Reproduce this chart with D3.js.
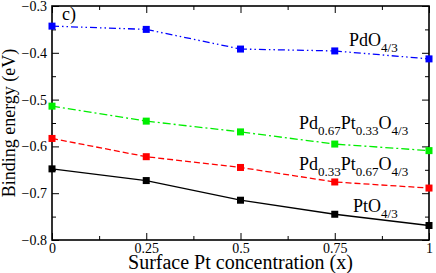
<!DOCTYPE html>
<html>
<head>
<meta charset="utf-8">
<script src="https://cdn.jsdelivr.net/npm/d3@7"></script>
<style>
  body { margin: 0; background: #fff; }
  text { font-family: "Liberation Serif", "Times New Roman", serif; fill: #000; }
</style>
</head>
<body>
<svg id="chart"></svg>
<script>
// Surface Pt concentration
const xValues = [0, 0.25, 0.5, 0.75, 1];
const xTicks = [0, 0.25, 0.5, 0.75, 1];
const xTickLabels = ["0", "0.25", "0.5", "0.75", "1"];
const yTicks = [-0.8, -0.7, -0.6, -0.5, -0.4, -0.3];

// binding energies (eV)
const pdO = [-0.343, -0.350, -0.392, -0.396, -0.413];
const pd67pt33 = [-0.514, -0.546, -0.569, -0.595, -0.609];
const pd33pt67 = [-0.583, -0.622, -0.645, -0.676, -0.689];
const ptO = [-0.648, -0.673, -0.715, -0.745, -0.769];

const series = [
  { values: pdO, color: "#0000ff", dash: "7,3,1.5,3,1.5,3" },
  { values: pd67pt33, color: "#00ee00", dash: "8,3,2,3" },
  { values: pd33pt67, color: "#ff0000", dash: "6,3" },
  { values: ptO, color: "#000000", dash: null }
];

const width = 436, height = 273;
const margin = { top: 6, right: 7, bottom: 33, left: 52 };
const w = width - margin.left - margin.right;
const h = height - margin.top - margin.bottom;

const svg = d3.select("#chart").attr("width", width).attr("height", height);
const g = svg.append("g").attr("transform", "translate(" + margin.left + "," + margin.top + ")");

const x = d3.scaleLinear().domain([0, 1]).range([0, w]);
const y = d3.scaleLinear().domain([-0.8, -0.3]).range([h, 0]);

const xMinor = d3.range(0, 1.0001, 0.125).filter(v => Math.abs(v * 4 - Math.round(v * 4)) > 1e-6);
const yMinor = d3.range(-0.75, -0.3, 0.1);

// bottom axis with labels
g.append("g")
  .attr("transform", "translate(0," + h + ")")
  .call(d3.axisBottom(x).tickValues(xTicks).tickSize(-7).tickPadding(3)
    .tickFormat((d, i) => xTickLabels[i]))
  .call(a => a.selectAll("text").style("font-size", "14px").attr("font-family", null));
g.append("g")
  .attr("transform", "translate(0," + h + ")")
  .call(d3.axisBottom(x).tickValues(xMinor).tickSize(-4).tickFormat(""));

// top axis
g.append("g")
  .call(d3.axisTop(x).tickValues(xTicks).tickSize(-7).tickFormat(""));
g.append("g")
  .call(d3.axisTop(x).tickValues(xMinor).tickSize(-4).tickFormat(""));

// left axis
g.append("g")
  .call(d3.axisLeft(y).tickValues(yTicks).tickSize(-7).tickPadding(5)
    .tickFormat(d3.format(".1f")))
  .call(a => a.selectAll("text").style("font-size", "14px").attr("font-family", null));
g.append("g")
  .call(d3.axisLeft(y).tickValues(yMinor).tickSize(-4).tickFormat(""));

// right axis
g.append("g")
  .attr("transform", "translate(" + w + ",0)")
  .call(d3.axisRight(y).tickValues(yTicks).tickSize(-7).tickFormat(""));
g.append("g")
  .attr("transform", "translate(" + w + ",0)")
  .call(d3.axisRight(y).tickValues(yMinor).tickSize(-4).tickFormat(""));

g.selectAll(".domain").remove();
g.selectAll(".tick line").attr("stroke", "#000").attr("stroke-width", 1);
g.selectAll(".tick text").attr("fill", "#000");

// frame
g.append("rect")
  .attr("width", w).attr("height", h)
  .attr("fill", "none").attr("stroke", "#000").attr("stroke-width", 1.6);

// lines
const line = d3.line().x((d, i) => x(xValues[i])).y(d => y(d));

series.forEach(s => {
  g.append("path")
    .datum(s.values)
    .attr("fill", "none")
    .attr("stroke", s.color)
    .attr("stroke-width", 1.3)
    .attr("stroke-dasharray", s.dash)
    .attr("d", line);

  g.selectAll(null)
    .data(s.values)
    .enter()
    .append("rect")
    .attr("x", (d, i) => x(xValues[i]) - 3.5)
    .attr("y", d => y(d) - 3.5)
    .attr("width", 7)
    .attr("height", 7)
    .attr("fill", s.color);
});

// series labels with subscripts
function label(px, py, parts) {
  const t = svg.append("text")
    .attr("x", px).attr("y", py)
    .style("font-size", "18px");
  let sub = false;
  parts.forEach(p => {
    const isSub = p[1];
    t.append("tspan")
      .text(p[0])
      .attr("dy", isSub ? (sub ? 0 : 6) : (sub ? -6 : 0))
      .style("font-size", isSub ? "13px" : null);
    sub = isSub;
  });
}

label(349, 46, [["PdO", false], ["4/3", true]]);
label(299, 129, [["Pd", false], ["0.67", true], ["Pt", false], ["0.33", true], ["O", false], ["4/3", true]]);
label(299, 170, [["Pd", false], ["0.33", true], ["Pt", false], ["0.67", true], ["O", false], ["4/3", true]]);
label(353, 212, [["PtO", false], ["4/3", true]]);

svg.append("text")
  .attr("x", 62).attr("y", 20)
  .style("font-size", "18px")
  .text("c)");

// axis titles
svg.append("text")
  .attr("x", margin.left + w / 2)
  .attr("y", 269)
  .attr("text-anchor", "middle")
  .style("font-size", "20px")
  .text("Surface Pt concentration (x)");

svg.append("text")
  .attr("transform", "rotate(-90)")
  .attr("x", -(margin.top + h / 2))
  .attr("y", 15)
  .attr("text-anchor", "middle")
  .style("font-size", "18px")
  .text("Binding energy (eV)");
</script>
</body>
</html>
